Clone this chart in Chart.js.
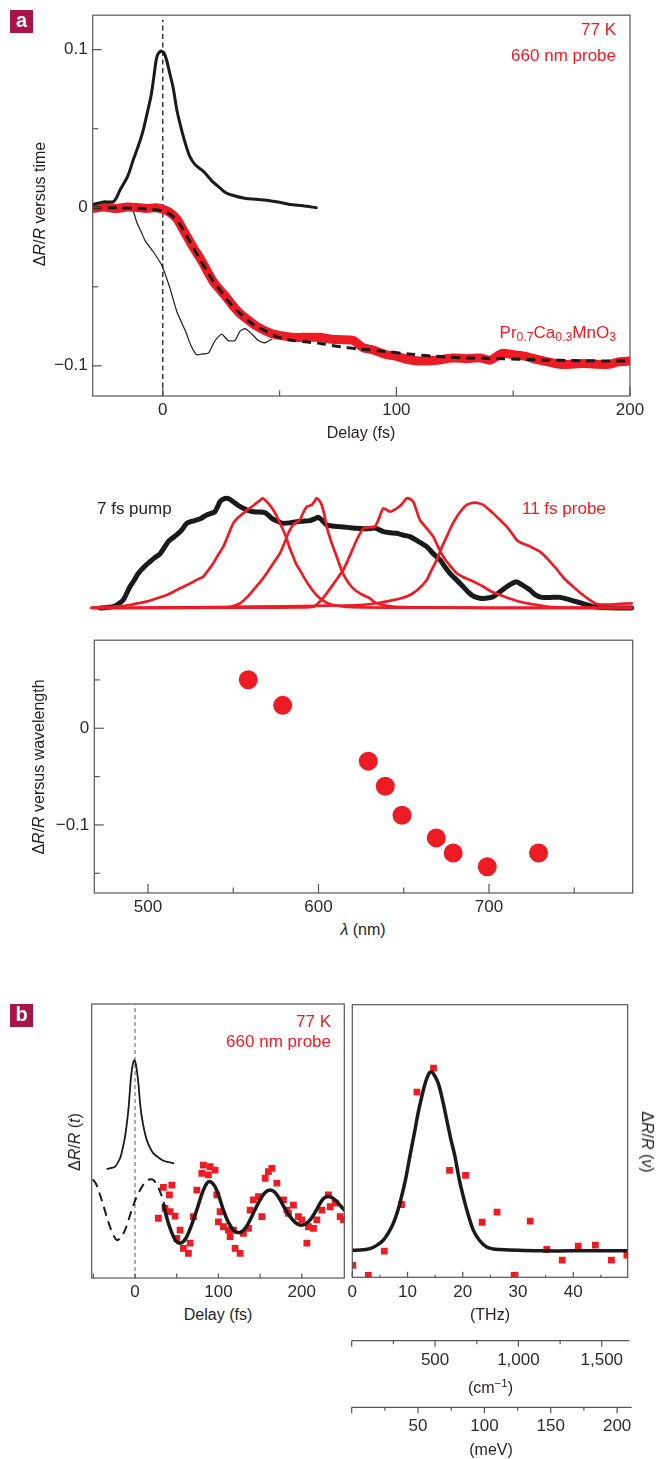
<!DOCTYPE html>
<html>
<head>
<meta charset="utf-8">
<script src="https://cdn.jsdelivr.net/npm/chart.js@4.4.1/dist/chart.umd.min.js"></script>
<style>
  body { margin: 0; background: #fff; }
  #page { position: relative; width: 656px; height: 1459px; overflow: hidden; background: #fff;
          font-family: "Liberation Sans", Arial, sans-serif; color: #231f20; }
  .txt { position: absolute; white-space: nowrap; line-height: 1; }
  .badge { position: absolute; width: 23px; height: 23px; background: #a8134a; color: #fff;
           font: bold 20px "Liberation Sans", Arial, sans-serif; text-align: center; line-height: 21px; }
  sub { font-size: 0.72em; vertical-align: -0.25em; }
  sup { font-size: 0.72em; vertical-align: 0.45em; }
</style>
</head>
<body>
<div id="page"></div>
<script>
// ---- panel a : reflectivity versus delay (fs) ----
const aXTicks = [0, 100, 200];
const aYTicks = [0.1, 0, -0.1];
// red data trace, 660 nm probe
const aRedTrace = [[-30,-0.0005],[-25,0.0005],[-20,-0.0005],[-15,0.0005],[-10,0],[-6.8,-0.0005],[-3,0],[0,-0.001],[3,-0.003],[6,-0.007],[8,-0.012],[10.3,-0.018],[13,-0.025],[16,-0.032],[19,-0.04],[21.7,-0.047],[24.5,-0.052],[27.4,-0.057],[30,-0.062],[33.1,-0.067],[36.5,-0.071],[40.2,-0.075],[44,-0.078],[47.3,-0.08],[51,-0.081],[55.8,-0.082],[60,-0.082],[64.4,-0.082],[67.2,-0.082],[71.5,-0.083],[76,-0.0835],[81.5,-0.084],[85.7,-0.0885],[90,-0.09],[95.7,-0.093],[100,-0.094],[105,-0.096],[110,-0.097],[117,-0.0965],[124,-0.095],[130,-0.0955],[136,-0.095],[140,-0.0965],[143,-0.094],[145.5,-0.092],[150,-0.093],[155.4,-0.094],[160,-0.096],[165,-0.0975],[169.8,-0.099],[175,-0.099],[180,-0.0985],[185,-0.099],[191.2,-0.099],[195,-0.0975],[200,-0.097]];
// dashed fit
const aFit = [[-30,0],[-20,0],[-10,-0.0005],[-5,-0.001],[0,-0.002],[3,-0.004],[6,-0.008],[8,-0.012],[10.3,-0.018],[13,-0.025],[16,-0.033],[19,-0.04],[21.7,-0.047],[25,-0.053],[28,-0.059],[31,-0.064],[34,-0.068],[37,-0.072],[40,-0.075],[44,-0.078],[48,-0.081],[52,-0.083],[56,-0.084],[62,-0.085],[68,-0.086],[76,-0.088],[85,-0.0895],[95.7,-0.091],[105,-0.0925],[117,-0.094],[130,-0.095],[145,-0.0955],[160,-0.0962],[180,-0.0968],[200,-0.097]];
// pump cross-correlation (thick black)
const aPump = [[-30,0.002],[-25.5,0.0037],[-21,0.004],[-18.2,0.0115],[-15,0.02],[-12.7,0.03],[-10.5,0.039],[-8.4,0.049],[-6.5,0.061],[-5,0.071],[-3.8,0.083],[-2.6,0.095],[-1,0.099],[0.5,0.098],[1.7,0.093],[3,0.085],[4.5,0.0755],[6,0.062],[8.1,0.049],[10,0.039],[11.7,0.032],[14,0.027],[17.4,0.023],[21,0.017],[24.5,0.0125],[27,0.0095],[30.2,0.0077],[35,0.006],[40,0.0053],[44.4,0.0048],[50,0.0035],[54.4,0.002],[60,0.0012],[65.7,0]];
// thin black trace
const aThin = [[-30,0.001],[-25,0.002],[-22.5,0.002],[-18,0],[-14,-0.001],[-12.7,-0.002],[-11.1,-0.0094],[-9,-0.016],[-7.5,-0.021],[-4,-0.028],[-0.4,-0.0365],[3.1,-0.051],[6,-0.0656],[9.7,-0.078],[12,-0.087],[14.5,-0.093],[17,-0.0925],[19.5,-0.092],[22.4,-0.084],[25.2,-0.08],[28,-0.084],[30.9,-0.084],[33.1,-0.078],[35.3,-0.0765],[38.2,-0.08],[40.9,-0.084],[43.7,-0.0855],[46.5,-0.0833]];

// ---- spectra (nm, normalised) ----
const pumpSpectrum = [[472,0],[475,0.003],[479.6,0.012],[483,0.04],[485.5,0.071],[487.5,0.13],[489.4,0.19],[492,0.25],[494.3,0.309],[498,0.37],[501.2,0.413],[504,0.45],[507,0.482],[510,0.55],[511.9,0.592],[514,0.62],[516.8,0.652],[520,0.7],[522.7,0.756],[526,0.775],[528.6,0.786],[531,0.8],[534.4,0.83],[537,0.845],[539.3,0.86],[541,0.91],[542.2,0.949],[544,0.97],[546.2,0.979],[548,0.97],[550,0.949],[553,0.915],[555.9,0.89],[559,0.87],[561.8,0.86],[565,0.857],[568.6,0.851],[570.5,0.83],[572.6,0.801],[576,0.775],[579.4,0.756],[583,0.76],[587.2,0.771],[591,0.775],[595,0.78],[597.5,0.795],[599.9,0.81],[602,0.785],[604.8,0.741],[608,0.733],[612.6,0.726],[617,0.72],[622.4,0.712],[627,0.708],[630.2,0.71],[633.1,0.715],[635.5,0.7],[638,0.682],[642,0.672],[645.9,0.667],[650,0.65],[653.7,0.637],[658,0.6],[663.5,0.548],[667,0.49],[671.3,0.429],[674,0.37],[677.1,0.31],[681,0.25],[684.9,0.19],[688,0.14],[691,0.105],[694.7,0.087],[698,0.087],[702.5,0.101],[706,0.14],[710.4,0.19],[713,0.215],[716.2,0.235],[719,0.21],[724,0.161],[727,0.12],[730.9,0.095],[736,0.095],[741.6,0.095],[746,0.08],[751.4,0.056],[756,0.035],[761.2,0.012],[770,0.002],[783.7,0]];
const probe1 = [[467,0.003],[475,0.008],[482,0.015],[489.4,0.027],[495,0.045],[499.2,0.057],[505,0.085],[511,0.116],[515,0.145],[518.8,0.176],[523,0.205],[526.6,0.235],[530,0.262],[532.4,0.28],[535,0.33],[538.3,0.399],[541,0.47],[544.2,0.548],[547,0.65],[550,0.756],[553,0.81],[555.9,0.845],[558,0.875],[560.8,0.904],[563,0.93],[564.7,0.949],[567.3,0.979],[569,0.96],[570.6,0.934],[573.5,0.875],[575.5,0.82],[577.4,0.756],[579.5,0.69],[581.3,0.622],[583,0.54],[585.2,0.458],[587,0.39],[589.1,0.339],[592,0.26],[595,0.19],[598,0.13],[600.9,0.086],[604.5,0.05],[608.7,0.027],[616.5,0.01],[640,0.004],[700,0.002],[783.7,0.002]];
const probe2 = [[467,0],[530,0.003],[548.1,0.008],[551,0.022],[554,0.042],[558,0.095],[561.8,0.161],[566,0.235],[569.6,0.31],[573.5,0.4],[577.4,0.488],[580,0.58],[582.3,0.667],[584.3,0.726],[586.5,0.76],[589.1,0.786],[591,0.85],[593.1,0.905],[596,0.92],[597.5,0.95],[598.9,0.979],[600.5,0.96],[601.9,0.92],[603.5,0.83],[604.8,0.726],[607.5,0.59],[610.7,0.458],[613.5,0.34],[616.5,0.25],[620,0.18],[624.3,0.131],[630.2,0.086],[632.1,0.06],[636,0.035],[642,0.015],[659.5,0.005],[700,0.002],[783.7,0]];
const probe3 = [[467,0],[560,0.003],[590,0.006],[597,0.012],[601,0.06],[604.8,0.131],[609,0.22],[614.5,0.339],[618.5,0.47],[622.4,0.607],[626.3,0.711],[629.5,0.72],[633.1,0.726],[635.5,0.8],[638,0.89],[641.9,0.86],[645.9,0.89],[648.5,0.92],[651.7,0.979],[653.5,0.975],[655.6,0.949],[657.5,0.87],[659.5,0.786],[663.5,0.711],[667.3,0.637],[670,0.55],[673.2,0.458],[677,0.38],[681.1,0.31],[685,0.275],[688.9,0.25],[693,0.22],[696.7,0.19],[701,0.15],[706.5,0.116],[712,0.085],[718.2,0.056],[725,0.035],[731.8,0.018],[738,0.008],[745.6,0.003],[783.7,0]];
const probe4 = [[467,0],[520,0.005],[560,0.012],[600,0.02],[624.3,0.027],[635,0.045],[643.9,0.071],[649,0.09],[653.7,0.116],[658,0.16],[663.5,0.25],[666,0.33],[669.3,0.429],[672,0.53],[675.2,0.637],[678,0.73],[681.1,0.815],[684,0.875],[686.9,0.92],[689.5,0.935],[691.8,0.94],[694,0.935],[696.7,0.92],[699.5,0.885],[702.5,0.845],[706.5,0.785],[710.4,0.726],[713.5,0.665],[716.2,0.607],[719,0.58],[722.1,0.562],[726,0.535],[729.9,0.503],[733,0.46],[735.8,0.414],[739,0.36],[741.6,0.31],[745,0.25],[749.4,0.19],[754,0.13],[759.2,0.071],[763.2,0.036],[768,0.03],[775,0.035],[783.7,0.042]];

// ---- dR/R versus probe wavelength ----
const wlXTicks = [500, 600, 700];
const wlYTicks = [0, -0.1];
const probeWavelength = [558.8, 579, 629.2, 639.2, 649, 669.1, 679, 699, 729.1];
const dRvsWavelength = [0.0502, 0.0237, -0.034, -0.06, -0.09, -0.1134, -0.129, -0.1433, -0.129];

// ---- panel b : oscillations (arb. units 0-100) ----
const bXTicks = [0, 100, 200];
const bPulse = [[-33.3,39.8],[-28,40.2],[-24,40.6],[-18,43.7],[-15,47],[-12,51.6],[-10,56],[-8,61.3],[-6.5,67],[-4.8,73.5],[-3,77.5],[-1,79.5],[0.8,78.3],[2.5,75],[4,71],[6,64],[8,58.9],[11,54],[14,50.4],[18,47.5],[22,45.5],[28,44],[34,42.8],[40,42.3],[46,41.9]];
const bFitEarly = [[-50.8,36],[-47,34.5],[-44,32.1],[-39,27.5],[-34,22.4],[-29,17.8],[-24,14.5],[-21,13.8],[-18,14.5],[-15,15.8],[-12,17.5],[-8,21],[-4,24.8],[1,29],[6,32.1],[11,34.5],[16,35.8],[19,36],[22,35.8],[26,34.2],[29.2,32.1],[32.5,29.5],[36,26]];
const bFit = [[34,26.6],[40,20],[46,15.1],[50,13.2],[54,12.7],[58,13.3],[62,15.1],[68,19.5],[74,24.8],[80,30.5],[84,33.5],[88,35.1],[92,34.8],[96,33.3],[101,29.5],[106,24.8],[112,20.3],[118,17.5],[123,16.6],[128,16.9],[133,18.5],[138,21.2],[144,25],[150,28.5],[156,31.2],[162,32.1],[168,31.2],[174,28.5],[180,25.2],[186,22.4],[192,20.3],[198,19.3],[204,19.6],[210,21.2],[216,24],[222,27.3],[227,29.2],[232,29.7],[237,29.2],[242,27.9],[246,26.5],[251,24.8]];
const bData = [[28,21.8],[34,33.1],[44.1,33.9],[41.2,30.3],[36,25.4],[42,24.2],[48,22.6],[54,17.5],[50.1,14.5],[58,10.8],[64,9],[66,12.7],[70,22.4],[74.1,32.1],[80.1,38.2],[82,41.2],[90,40.6],[96,39.4],[88,37.6],[98.1,30.3],[102,24.2],[100,20.5],[106,18.7],[112,17.5],[114,15.1],[118,17.5],[120,10.8],[126.1,9],[130,16.3],[136,18.1],[138.1,24.8],[142,28.5],[148,29.7],[152.1,22.4],[156.1,36.4],[160,38.8],[164.1,40],[170.1,34.6],[178,28.5],[182.1,24.8],[184,23.6],[190,26.6],[196,22.4],[200.1,21.2],[206.1,12.7],[208,18.7],[214,18.1],[218.1,21.2],[224.1,24.8],[232,30.3],[234.1,26],[240.1,27.3],[246.1,22.4],[250,21.2]];

const thzTicks = [0, 10, 20, 30, 40];
const thzFit = [[0,9.9],[2,10.1],[3.2,10.5],[4.5,11.8],[5.6,13.6],[6.5,16.2],[7.4,19.7],[8.2,24.2],[8.9,29.5],[9.7,36.5],[10.4,44.2],[11.2,52.5],[11.9,60.1],[12.6,66.5],[13.2,71.2],[13.9,74.9],[14.4,75.3],[15,73.6],[15.5,71.5],[15.9,68.8],[16.5,63.5],[17.1,57.7],[17.8,51],[18.6,44.2],[19.3,36.5],[20.1,29.5],[21,22.8],[21.9,17.3],[23,13.6],[24.3,11.1],[25.5,10.4],[26.7,10.2],[30,9.9],[34,9.7],[40,9.7],[49.85,9.7]];
const thzData = [[0.1,4.4],[2.9,0.7],[5.8,9.6],[8.9,26.7],[11.7,67.9],[14.7,76.7],[17.6,39.2],[20.5,37.4],[23.5,20.2],[26.2,23.9],[29.3,0.7],[32.2,20.6],[35.2,10.2],[38,6.3],[40.9,11.4],[44,11.8],[46.9,6.3],[49.7,8.1]];
const cmTicks = [500, 1000, 1500];
const meVTicks = [50, 100, 150, 200];

const RED = '#ed1c24', BLACK = '#1a1a1a';
Chart.defaults.font.family = '"Liberation Sans", Arial, sans-serif';
Chart.defaults.font.size = 17;
const page = document.getElementById('page');

const pts = arr => arr.map(([x, y]) => ({ x, y }));
const num = v => (v < 0 ? '\u2212' : '') + Math.abs(v);

function line(data, color, width, extra) {
  return Object.assign({ data: pts(data), showLine: true, borderColor: color, borderWidth: width,
    pointRadius: 0, pointHoverRadius: 0, tension: 0.3, fill: false,
    borderJoinStyle: 'round', borderCapStyle: 'round' }, extra || {});
}
function dots(data, color, style, r) {
  return { data: pts(data), showLine: false, pointStyle: style, pointRadius: r, pointHoverRadius: r,
    backgroundColor: color, borderColor: color, pointBorderWidth: 0 };
}

// frame box + inward tick marks drawn from the chart's own scales
function frame(o) {
  return {
    id: 'frame',
    afterDatasetsDraw(chart) {
      if (o.none) return;
      const { ctx, chartArea: a, scales } = chart;
      ctx.save();
      ctx.strokeStyle = '#555';
      ctx.lineWidth = 1.2;
      if (o.box) ctx.strokeRect(a.left, a.top, a.right - a.left, a.bottom - a.top);
      else { ctx.beginPath(); ctx.moveTo(a.left, a.bottom); ctx.lineTo(a.right, a.bottom); ctx.stroke(); }
      (o.ticks || []).forEach(t => {
        const s = scales[t.axis];
        t.at.forEach(v => {
          const p = s.getPixelForValue(v);
          ctx.beginPath();
          if (t.axis === 'x') { ctx.moveTo(p, a.bottom); ctx.lineTo(p, a.bottom + t.len * (t.down ? 1 : -1)); }
          else { ctx.moveTo(a.left, p); ctx.lineTo(a.left + t.len, p); }
          ctx.stroke();
        });
      });
      ctx.restore();
    }
  };
}

function axis(range, labels, size, pad, horiz, fmt) {
  return {
    type: 'linear', min: range[0], max: range[1], display: !!labels,
    grid: { display: false, drawTicks: false }, border: { display: false },
    ticks: { padding: pad || 0, color: '#2b2b2b', autoSkip: false, maxRotation: 0, callback: v => (fmt || num)(v) },
    afterBuildTicks: s => { if (labels) s.ticks = labels.map(v => ({ value: v })); },
    afterFit: s => { if (!labels) return; if (horiz) s.height = size; else s.width = size; }
  };
}

// o.canvas = [left, top, w, h] ; o.area = [x0, y0, x1, y1] in page pixels
function plot(o) {
  const [L, T, W, H] = o.canvas, [x0, y0, x1, y1] = o.area;
  const cv = document.createElement('canvas');
  cv.width = W; cv.height = H;
  cv.style.cssText = `position:absolute;left:${L}px;top:${T}px;width:${W}px;height:${H}px`;
  page.appendChild(cv);
  const yW = x0 - L, xH = T + H - y1;
  return new Chart(cv, {
    type: 'scatter',
    data: { datasets: o.datasets || [] },
    options: {
      responsive: false, animation: false, events: [],
      layout: { padding: { left: o.yLabels ? 0 : yW, top: y0 - T, right: L + W - x1, bottom: o.xLabels ? 0 : xH } },
      plugins: { legend: { display: false }, tooltip: { enabled: false } },
      scales: {
        x: axis(o.xRange, o.xLabels, xH, o.xPad, true, o.xFmt),
        y: axis(o.yRange || [0, 1], o.yLabels, yW, o.yPad, false, o.yFmt)
      }
    },
    plugins: [frame(o.frame)]
  });
}

function text(html, x, y, o) {
  o = o || {};
  const d = document.createElement('div');
  d.className = 'txt';
  d.innerHTML = html;
  const ax = { left: '0', center: '-50%', right: '-100%' }[o.align || 'center'];
  d.style.cssText = `left:${x}px;top:${y}px;font-size:${o.size || 17}px;color:${o.color || '#231f20'};` +
    `transform:translate(${ax},-50%)${o.rot ? ` rotate(${o.rot}deg)` : ''}`;
  page.appendChild(d);
}
function badge(ch, x, y) {
  const d = document.createElement('div');
  d.className = 'badge'; d.textContent = ch;
  d.style.left = x + 'px'; d.style.top = y + 'px';
  page.appendChild(d);
}

// panel a, time trace
const aY = [-0.1191, 0.1218];
plot({
  canvas: [0, 0, 656, 425], area: [92.7, 10.7, 630, 396],
  xRange: [-30, 200], yRange: aY, xLabels: aXTicks, yLabels: aYTicks, xPad: 4, yPad: 5,
  frame: { box: true, ticks: [
    { axis: 'x', at: aXTicks, len: 9 }, { axis: 'x', at: [50, 150], len: 5.5 },
    { axis: 'y', at: aYTicks, len: 9 }, { axis: 'y', at: [0.05, -0.05], len: 5.5 }] },
  datasets: [
    line(aFit, BLACK, 3, { borderDash: [9, 6], borderCapStyle: 'butt' }),
    line(aPump, BLACK, 3),
    line(aRedTrace, RED, 9, { tension: 0.25 }),
    line([[0, aY[0]], [0, 0.119]], BLACK, 1.3, { tension: 0, borderDash: [5, 3.5], borderCapStyle: 'butt' }),
    line(aThin, BLACK, 1.2, { tension: 0.2 })
  ]
});

// spectra of pump and probe pulses
plot({
  canvas: [60, 470, 600, 160], area: [91.7, 496, 631.7, 612.5],
  xRange: [467, 783.7], yRange: [-0.04, 1],
  frame: { none: true },
  datasets: [
    line(probe1, RED, 2.7, { tension: 0.2, clip: false }),
    line(probe2, RED, 2.7, { tension: 0.2, clip: false }),
    line(probe3, RED, 2.7, { tension: 0.2, clip: false }),
    line(probe4, RED, 2.7, { tension: 0.2, clip: false }),
    line(pumpSpectrum, BLACK, 5, { tension: 0.2, clip: false })
  ]
});

// dR/R versus wavelength
plot({
  canvas: [0, 625, 656, 295], area: [94.3, 639.3, 632.7, 893],
  xRange: [468.5, 784.3], yRange: [-0.1704, 0.0911], xLabels: wlXTicks, yLabels: wlYTicks, xPad: 4, yPad: 5,
  frame: { box: true, ticks: [
    { axis: 'x', at: wlXTicks, len: 9 }, { axis: 'x', at: [550, 650, 750], len: 5.5 },
    { axis: 'y', at: wlYTicks, len: 9.5 }, { axis: 'y', at: [0.05, -0.05, -0.15], len: 5.5 }] },
  datasets: [dots(probeWavelength.map((w, i) => [w, dRvsWavelength[i]]), RED, 'circle', 9.5)]
});

// panel b, time domain
plot({
  canvas: [40, 990, 320, 310], area: [91.7, 1004, 344.3, 1278],
  xRange: [-52, 251], yRange: [0, 100], xLabels: bXTicks, xPad: 4,
  frame: { box: true, ticks: [{ axis: 'x', at: [-50, 0, 50, 100, 150, 200], len: 4.5 }] },
  datasets: [
    line(bFit, BLACK, 3.5),
    line(bFitEarly, BLACK, 2, { borderDash: [9, 6], borderCapStyle: 'butt' }),
    line(bPulse, BLACK, 1.8, { tension: 0.25 }),
    dots(bData, RED, 'rect', 4.8),
    line([[0, 0], [0, 100]], '#777', 1.2, { tension: 0, borderDash: [4, 3], borderCapStyle: 'butt' })
  ]
});

// panel b, frequency domain
plot({
  canvas: [330, 990, 326, 310], area: [352.3, 1004.7, 627.7, 1277.3],
  xRange: [0, 49.85], yRange: [0, 100], xLabels: thzTicks, xPad: 4.5,
  frame: { box: true, ticks: [{ axis: 'x', at: thzTicks, len: 5.5 }, { axis: 'x', at: [5, 15, 25, 35, 45], len: 2.5 }] },
  datasets: [line(thzFit, BLACK, 3.5), dots(thzData, RED, 'rect', 4.8)]
});

// extra frequency axes
plot({
  canvas: [330, 1320, 326, 60], area: [351.7, 1335, 629.3, 1340.7],
  xRange: [0, 1665], xLabels: cmTicks, xPad: 9, xFmt: v => v.toLocaleString('en-US'),
  frame: { box: false, ticks: [{ axis: 'x', at: [0, 500, 1000, 1500], len: 6, down: true }, { axis: 'x', at: [250, 750, 1250], len: 3.5, down: true }] }
});
plot({
  canvas: [330, 1390, 326, 55], area: [351.7, 1402, 631.7, 1407.3],
  xRange: [0, 211], xLabels: meVTicks, xPad: 9,
  frame: { box: false, ticks: [{ axis: 'x', at: [0, 50, 100, 150, 200], len: 6, down: true }, { axis: 'x', at: [25, 75, 125, 175], len: 3.5, down: true }] }
});

// labels
badge('a', 10, 10);
text('77 K', 616, 28.5, { align: 'right', color: RED });
text('660 nm probe', 616, 54.5, { align: 'right', color: RED });
text('Pr<sub>0.7</sub>Ca<sub>0.3</sub>MnO<sub>3</sub>', 616, 334, { align: 'right', color: RED });
text('\u0394<i>R</i>/<i>R</i> versus time', 40, 204, { rot: -90, size: 16 });
text('Delay (fs)', 361, 433, { size: 16 });
text('7 fs pump', 97, 507.5, { align: 'left' });
text('11 fs probe', 522, 507.5, { align: 'left', color: RED });
text('\u0394<i>R</i>/<i>R</i> versus wavelength', 39, 767, { rot: -90, size: 16 });
text('<i>\u03bb</i> (nm)', 363, 930, { size: 16 });
badge('b', 10, 1004);
text('77 K', 331, 1021, { align: 'right', color: RED });
text('660 nm probe', 331, 1040.5, { align: 'right', color: RED });
text('\u0394<i>R</i>/<i>R</i> (<i>t</i>)', 75, 1142, { rot: -90, size: 16 });
text('\u0394<i>R</i>/<i>R</i> (<i>\u03bd</i>)', 647, 1142, { rot: 90, size: 16 });
text('Delay (fs)', 218, 1315, { size: 16 });
text('(THz)', 490, 1315, { size: 16 });
text('(cm<sup>\u22121</sup>)', 490.5, 1387, { size: 16 });
text('(meV)', 491, 1450, { size: 16 });
</script>
</body>
</html>
